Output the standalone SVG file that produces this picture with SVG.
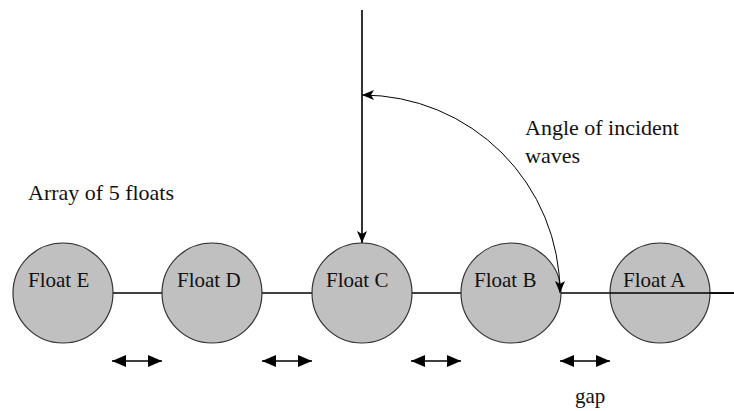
<svg xmlns="http://www.w3.org/2000/svg" width="734" height="411" viewBox="0 0 734 411">
<defs>
<style>
.float{fill:#c0c0c0;stroke:#333;stroke-width:1.2}
.ln{stroke:#000;stroke-width:1.6;fill:none}
.thin{stroke:#000;stroke-width:1;fill:none}
</style>
<marker id="ah" viewBox="0 0 12 10" refX="12" refY="5" markerWidth="12" markerHeight="10" markerUnits="userSpaceOnUse" orient="auto-start-reverse">
<path d="M0,0 L12,5 L0,10 L3,5 Z" fill="#000"/>
</marker>
<marker id="gh" viewBox="0 0 14 12" refX="14" refY="6" markerWidth="14" markerHeight="12" markerUnits="userSpaceOnUse" orient="auto-start-reverse">
<path d="M0,0 L14,6 L0,12 Z" fill="#000"/>
</marker>
</defs>
<rect width="734" height="411" fill="#fff"/>
<g id="connectors">
<line class="ln" x1="113" y1="293" x2="734" y2="293"/>
</g>
<g id="floatA"><circle class="float" cx="660" cy="293" r="50"/><line class="ln" x1="610" y1="293" x2="734" y2="293"/><text font-family="Liberation Serif" font-size="21" fill="#111" x="623" y="287">Float A</text></g>
<g id="floatB"><circle class="float" cx="511" cy="293" r="50"/><text font-family="Liberation Serif" font-size="21" fill="#111" x="474" y="287">Float B</text></g>
<g id="floatC"><circle class="float" cx="362" cy="293" r="50"/><text font-family="Liberation Serif" font-size="21" fill="#111" x="326" y="287">Float C</text></g>
<g id="floatD"><circle class="float" cx="212" cy="293" r="50"/><text font-family="Liberation Serif" font-size="21" fill="#111" x="177" y="287">Float D</text></g>
<g id="floatE"><circle class="float" cx="63" cy="293" r="50"/><text font-family="Liberation Serif" font-size="21" fill="#111" x="28" y="287">Float E</text></g>
<g id="arrows">
<line class="ln" x1="362" y1="10" x2="362" y2="243" marker-end="url(#ah)"/>
<path class="thin" d="M362,95 A198,198 0 0 1 560,293" marker-start="url(#ah)" marker-end="url(#ah)"/>
<line class="ln" x1="112" y1="361" x2="162" y2="361" marker-start="url(#gh)" marker-end="url(#gh)"/>
<line class="ln" x1="262" y1="361" x2="312" y2="361" marker-start="url(#gh)" marker-end="url(#gh)"/>
<line class="ln" x1="411" y1="361" x2="461" y2="361" marker-start="url(#gh)" marker-end="url(#gh)"/>
<line class="ln" x1="560" y1="361" x2="610" y2="361" marker-start="url(#gh)" marker-end="url(#gh)"/>
</g>
<g id="labels">
<text font-family="Liberation Serif" font-size="22" fill="#111" x="525" y="135">Angle of incident</text>
<text font-family="Liberation Serif" font-size="22" fill="#111" x="525" y="163">waves</text>
<text font-family="Liberation Serif" font-size="22" fill="#111" x="28" y="200">Array of 5 floats</text>
<text font-family="Liberation Serif" font-size="21" fill="#111" x="575" y="403">gap</text>
</g>
</svg>
